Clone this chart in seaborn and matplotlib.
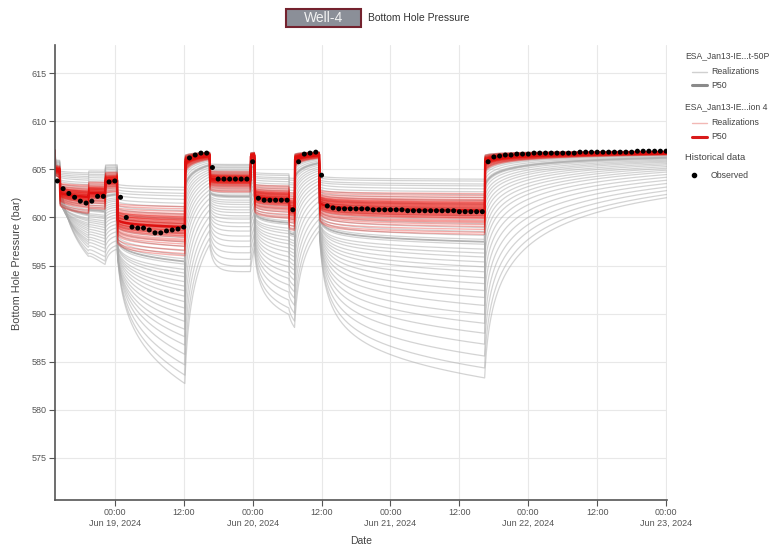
import numpy as np
import pandas as pd
import matplotlib
matplotlib.use("Agg")
import matplotlib.pyplot as plt
import matplotlib.dates as mdates
from matplotlib.patches import Rectangle
import seaborn as sns

# ---------------------------------------------------------------- data
T0 = pd.Timestamp("2024-06-19 00:00")

# Hourly gauge readings, first one at T0 - 10 h
OBS_FIRST_HOUR = -10
OBS_BHP = [
    603.8, 603.0, 602.5, 602.1, 601.7, 601.5, 601.7, 602.2, 602.2, 603.7,
    603.8, 602.1, 600.0, 599.0, 598.9, 598.9, 598.7, 598.4, 598.4, 598.6,
    598.7, 598.8, 599.0, 606.2, 606.5, 606.7, 606.7, 605.2, 604.0, 604.0,
    604.0, 604.0, 604.0, 604.0, 605.8, 602.0, 601.8, 601.8, 601.8, 601.8,
    601.8, 600.8, 605.8, 606.6, 606.7, 606.8, 604.4, 601.2, 601.0, 600.9,
    600.9, 600.9, 600.9, 600.9, 600.9, 600.8, 600.8, 600.8, 600.8, 600.8,
    600.8, 600.7, 600.7, 600.7, 600.7, 600.7, 600.7, 600.7, 600.7, 600.7,
    600.6, 600.6, 600.6, 600.6, 600.6, 605.8, 606.3, 606.4, 606.5, 606.5,
    606.6, 606.6, 606.6, 606.7, 606.7, 606.7, 606.7, 606.7, 606.7, 606.7,
    606.7, 606.8, 606.8, 606.8, 606.8, 606.8, 606.8, 606.8, 606.8, 606.8,
    606.8, 606.9, 606.9, 606.9, 606.9, 606.9, 606.9,
]

# Production schedule: hour of each rate change (from T0) and the new rate
RATE_TIMES = [-10.4, -9.5, -4.5, -1.6, 0.5, 12.3, 16.6, 23.7, 24.4, 30.4, 31.4, 35.7, 64.5]
RATE_VALUES = [2.5, 5.3, 4.8, 3.2, 8.3, 0.0, 3.0, 0.0, 5.2, 6.3, 0.0, 6.2, 0.0]

P_INIT = 607.0      # static reservoir pressure, bar
TAU = 0.5           # early-time constant of the transient, h
FLOW_HOUR = 60.0    # Jun 21 12:00, late in the last flow period
SHUT_HOUR = 65.5    # one hour into the final build-up

# Simulated pressure of each realization at FLOW_HOUR and at SHUT_HOUR
GRAY_FLOW = [604.0, 603.8, 603.5, 603.3, 603.0, 602.7, 602.4, 602.1, 601.8, 601.4,
             601.0, 600.6, 600.2, 599.8, 599.4, 599.0, 598.6, 598.2, 597.8, 597.3,
             596.8, 596.4, 596.0, 595.5, 595.0, 594.5, 593.9, 593.3, 592.6, 591.9,
             591.1, 590.2, 589.3, 588.3, 587.2, 586.0, 584.8, 583.8]
GRAY_SHUT = [606.6, 606.6, 606.5, 606.5, 606.4, 606.4, 606.3, 606.3, 606.2, 606.1,
             606.0, 605.9, 605.8, 605.6, 605.4, 605.2, 605.0, 604.7, 604.4, 604.1,
             603.8, 603.4, 603.0, 602.6, 602.1, 601.6, 601.0, 600.4, 599.7, 599.0,
             598.1, 597.1, 596.0, 594.8, 593.5, 592.2, 590.8, 589.6]
RED_FLOW = [602.5, 602.3, 602.1, 601.9, 601.8, 601.7, 601.6, 601.5, 601.4, 601.3,
            601.2, 601.1, 601.0, 600.9, 600.8, 600.7, 600.6, 600.5, 600.4, 600.3,
            600.2, 600.1, 600.0, 599.9, 599.7, 599.5, 599.3, 599.1, 598.8, 598.5,
            598.3, 601.6, 601.3, 601.0, 600.8, 600.6, 600.4, 600.2, 601.4, 601.1,
            600.9, 600.7, 600.5, 601.2, 600.3, 600.0, 599.6, 601.5]
RED_SHUT = [606.6, 606.5, 606.5, 606.4, 606.4, 606.4, 606.3, 606.3, 606.3, 606.2,
            606.2, 606.2, 606.1, 606.1, 606.1, 606.0, 606.0, 606.0, 605.9, 605.9,
            605.9, 605.8, 605.8, 605.8, 605.7, 605.7, 605.6, 605.5, 605.5, 605.4,
            605.3, 606.3, 606.2, 606.1, 606.1, 606.0, 605.9, 605.9, 606.3, 606.2,
            606.1, 606.0, 606.0, 606.2, 605.9, 605.8, 605.7, 606.3]

Y_TICKS = [575, 580, 585, 590, 595, 600, 605, 610, 615]
X_START_H, X_END_H = -10.5, 96.15


# ---------------------------------------------------------- simulation
def current_rate(h):
    h = np.atleast_1d(np.asarray(h, dtype=float))
    idx = np.searchsorted(RATE_TIMES, h, side="right") - 1
    vals = np.array(RATE_VALUES)[np.clip(idx, 0, None)]
    return np.where(idx >= 0, vals, 0.0)


def transient_sum(h):
    h = np.atleast_1d(np.asarray(h, dtype=float))
    k = np.zeros_like(h)
    prev = 0.0
    for tj, qj in zip(RATE_TIMES, RATE_VALUES):
        s = np.clip(h - tj, 0, None)
        k += (qj - prev) * np.log1p(s / TAU)
        prev = qj
    return k


hours = np.round(np.arange(X_START_H, X_END_H + 1e-9, 0.1), 3)
Q = current_rate(hours)
K = transient_sum(hours)
q_flow = current_rate(FLOW_HOUR)[0]
k_flow = transient_sum(FLOW_HOUR)[0]
k_shut = transient_sum(SHUT_HOUR)[0]


def ensemble_frame(flow_levels, shut_levels, name):
    frames = []
    for i, (pf, ps) in enumerate(zip(flow_levels, shut_levels)):
        slow = (P_INIT - ps) / k_shut
        fast = max((P_INIT - pf - slow * k_flow) / q_flow, 0.0)
        p = P_INIT - fast * Q - slow * K
        frames.append(pd.DataFrame({"time": T0 + pd.to_timedelta(hours, unit="h"),
                                    "bhp": p, "member": f"{name}{i}"}))
    return pd.concat(frames, ignore_index=True)


gray_df = ensemble_frame(GRAY_FLOW, GRAY_SHUT, "g")
red_df = ensemble_frame(RED_FLOW, RED_SHUT, "r")
gray_p50 = gray_df.groupby("time", as_index=False)["bhp"].median()
red_p50 = red_df.groupby("time", as_index=False)["bhp"].median()

obs_df = pd.DataFrame({
    "time": T0 + pd.to_timedelta(np.arange(len(OBS_BHP)) + OBS_FIRST_HOUR, unit="h"),
    "bhp": OBS_BHP,
})

# ---------------------------------------------------------------- plot
sns.set_theme(style="white")
plt.rcParams["font.family"] = ["Liberation Sans", "DejaVu Sans"]

W, H = 773, 548
fig = plt.figure(figsize=(W / 100, H / 100), dpi=100)
ax = fig.add_axes([54.5 / W, 1 - 500 / H, (667 - 54.5) / W, (500 - 45) / H])

sns.lineplot(data=gray_df, x="time", y="bhp", units="member", estimator=None,
             color="#a9a9a9", alpha=0.5, lw=0.9, ax=ax, legend=False)
sns.lineplot(data=gray_p50, x="time", y="bhp", color="#b3b3b3", lw=1.3, ax=ax)
sns.lineplot(data=red_df, x="time", y="bhp", units="member", estimator=None,
             color="#e8100a", alpha=0.32, lw=1.0, ax=ax, legend=False)
sns.lineplot(data=red_p50, x="time", y="bhp", color="#de1010", lw=1.8, ax=ax)
sns.scatterplot(data=obs_df, x="time", y="bhp", color="black", s=13,
                edgecolor="none", ax=ax, zorder=5)

ax.set_xlim(T0 + pd.Timedelta(hours=X_START_H), T0 + pd.Timedelta(hours=X_END_H))
ax.set_ylim(570.6, 617.95)
ax.set_yticks(Y_TICKS)
ax.xaxis.set_major_locator(mdates.HourLocator(byhour=[0, 12]))


def date_fmt(x, pos):
    d = mdates.num2date(x)
    if d.hour == 0:
        return d.strftime("%H:%M\n%b %d, %Y")
    return d.strftime("%H:%M")


ax.xaxis.set_major_formatter(plt.FuncFormatter(date_fmt))
ax.grid(True, color="#e8e8e8", lw=0.8)
ax.set_axisbelow(True)
for side in ("top", "right"):
    ax.spines[side].set_visible(False)
for side in ("left", "bottom"):
    ax.spines[side].set_color("#555555")
    ax.spines[side].set_linewidth(1.2)
ax.tick_params(axis="both", direction="out", length=4, width=0.8, color="#555555",
               labelsize=6.5, labelcolor="#555555", bottom=True, left=True, pad=2)
ax.set_xlabel("Date", fontsize=7.5, color="#444444")
ax.set_ylabel("Bottom Hole Pressure (bar)", fontsize=7.8, color="#444444")
ax.xaxis.set_label_coords(0.5, -(541 - 500) / 455, transform=ax.transAxes)
ax.xaxis.label.set_va("center")
ax.yaxis.set_label_coords(-(54.5 - 17) / 612.5, (500 - 263) / 455, transform=ax.transAxes)
ax.yaxis.label.set_va("center")

# ------------------------------------------------- title and legend panel
ov = fig.add_axes([0, 0, 1, 1], facecolor="none")
ov.set_xlim(0, W)
ov.set_ylim(H, 0)
ov.axis("off")

ov.add_patch(Rectangle((286, 9), 75, 18, facecolor="#8b8f98", edgecolor="#74222e", lw=1.5))
ov.text(323.5, 18.5, "Well-4", color="#f2f2f2", fontsize=10, ha="center", va="center")
ov.text(368, 18, "Bottom Hole Pressure", color="#333333", fontsize=7.5, ha="left", va="center")

LEG_FS = 6.3
HEAD_FS = 6.2
ov.text(685, 56, "ESA_Jan13-IE...t-50P", fontsize=HEAD_FS, color="#444444", va="center")
ov.plot([692, 707], [71.5, 71.5], color="#d0d0d0", lw=1.0)
ov.text(711, 71.5, "Realizations", fontsize=LEG_FS, color="#444444", va="center")
ov.plot([692, 707], [85, 85], color="#8a8a8a", lw=2.2)
ov.text(711, 85, "P50", fontsize=LEG_FS, color="#444444", va="center")

ov.text(685, 107, "ESA_Jan13-IE...ion 4", fontsize=HEAD_FS, color="#444444", va="center")
ov.plot([692, 707], [122.5, 122.5], color="#f2b8b5", lw=1.0)
ov.text(711, 122.5, "Realizations", fontsize=LEG_FS, color="#444444", va="center")
ov.plot([692, 707], [136.5, 136.5], color="#d91a1a", lw=2.2)
ov.text(711, 136.5, "P50", fontsize=LEG_FS, color="#444444", va="center")

ov.text(685, 158, "Historical data", fontsize=6.8, color="#444444", va="center")
ov.plot([694], [175], "o", color="black", markersize=3)
ov.text(711, 175, "Observed", fontsize=LEG_FS, color="#444444", va="center")

fig.savefig("out.png", dpi=100)
